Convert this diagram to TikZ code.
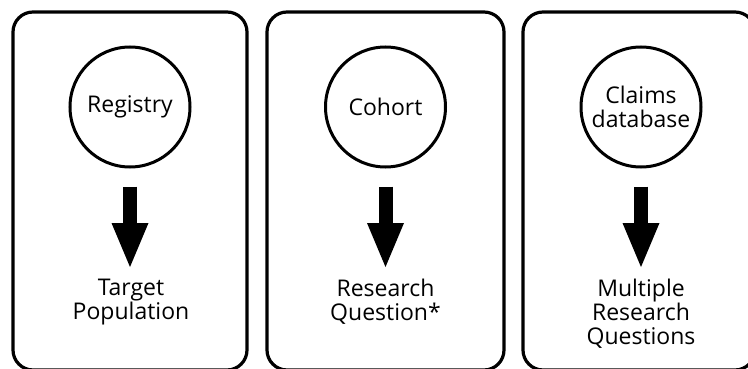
\documentclass[tikz,border=0pt]{standalone}
\usepackage{fontspec}
\setmainfont{Open Sans}
\usetikzlibrary{arrows.meta}
\begin{document}
\begin{tikzpicture}[x=1pt,y=-1pt,
  panel/.style={draw=black,line width=3.2pt,rounded corners=20pt},
  src/.style={circle,draw=black,line width=3pt,minimum size=120pt,inner sep=0pt,align=center,font=\fontsize{23}{23.5}\selectfont},
  outlbl/.style={align=center,inner sep=0pt,anchor=north,font=\fontsize{23}{24}\selectfont},
  blockarrow/.style={line width=14pt,-{Triangle[width=37pt,length=44pt,line width=0pt]},shorten <=18pt,shorten >=12pt}]
\useasboundingbox (0,0) rectangle (748,369);
\draw[panel] (13,12) rectangle (247,370);
\draw[panel] (267,12) rectangle (504,370);
\draw[panel] (523,12) rectangle (755,370);
\node[src] (reg) at (130,107) {Registry};
\node[src] (coh) at (385.5,107) {Cohort};
\node[src] (cla) at (641,107) {Claims\\database};
\node[outlbl] (tp) at (131,279) {Target\\Population};
\node[outlbl] (rq) at (385.5,279) {Research\\Question*};
\node[outlbl] (mrq) at (641,279) {Multiple\\Research\\Questions};
\draw[blockarrow] (reg.south) -- (reg.south |- tp.north);
\draw[blockarrow] (coh.south) -- (coh.south |- rq.north);
\draw[blockarrow] (cla.south) -- (cla.south |- mrq.north);
\end{tikzpicture}
\end{document}
